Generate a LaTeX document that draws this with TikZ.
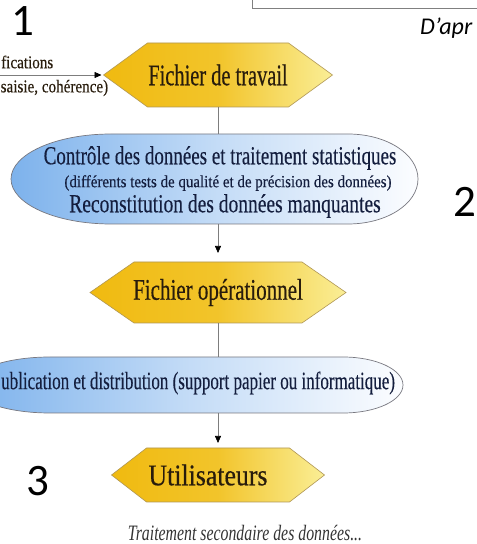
\documentclass[tikz,border=0pt]{standalone}
\usepackage{fontspec}
\setmainfont{Liberation Serif}
\newfontfamily\heavy[FakeBold=0.5]{Liberation Serif}
\newfontfamily\semiheavy[FakeBold=0.3]{Liberation Serif}
\newfontfamily\calib{Carlito}
\usetikzlibrary{arrows.meta}
\pgfdeclarelayer{bg}
\pgfsetlayers{bg,main}
\definecolor{goldL}{RGB}{240,186,16}
\definecolor{goldR}{RGB}{250,238,150}
\definecolor{blueL}{RGB}{125,178,236}
\definecolor{blueR}{RGB}{252,253,255}
\definecolor{linegray}{RGB}{125,125,125}
\definecolor{hexedge}{RGB}{175,150,85}
\definecolor{elledge}{RGB}{120,120,128}
\definecolor{txtdark}{RGB}{40,28,12}
\definecolor{txtblue}{RGB}{20,30,62}
\newcommand{\sx}[2]{\scalebox{#1}[1]{#2}}
\begin{document}
\begin{tikzpicture}[x=1pt,y=1pt,
  box/.style={inner sep=0pt, outer sep=0pt, draw=none},
  hexfill/.style={left color=goldL, right color=goldR, middle color=goldL!80!goldR, draw=hexedge, line width=0.6pt},
  ellfill/.style={left color=blueL, right color=blueR, middle color=blueL!45!blueR, draw=elledge, line width=0.7pt},
  conn/.style={draw=linegray, line width=0.7pt},
  arr/.style={conn, -{Triangle[length=7pt,width=6pt,color=black]}},
  boxline/.style={draw=gray, line width=0.8pt},
  hextext/.style={inner sep=0pt, text=txtdark, font=\heavy\fontsize{30}{30}\selectfont},
  elltext/.style={inner sep=0pt, text=txtblue},
  num/.style={inner sep=0pt, font=\calib\fontsize{45}{45}\selectfont},
  side/.style={inner sep=0pt, anchor=west, text=txtdark, font=\semiheavy\fontsize{18}{18}\selectfont}
  ]
\useasboundingbox (0,0) rectangle (477,544);

% top-right frame
\coordinate (bxa) at (252,546);
\coordinate (bxb) at (252,536);
\coordinate (bxc) at (480,536);
\draw[boxline] (bxa) -- (bxb) -- (bxc);
\node[inner sep=0pt, anchor=west, font=\calib\itshape\fontsize{24}{24}\selectfont] (dapr) at (420,516) {D’apr};

% numbers
\node[num] (n1) at (23,523) {1};
\node[num] (n2) at (465,342) {2};
\node[num] (n3) at (38,63) {3};

% hexagon 1
\node[box, minimum width=229pt, minimum height=64pt] (h1) at (218,469) {};
\node[hextext] (t1) at (h1.center) {\sx{0.68}{Fichier de travail}};
% side texts
\coordinate (lin) at (0,469);
\node[side] (fic) at (1,482) {\sx{0.84}{fications}};
\node[side] (sai) at (0.5,456) {\sx{0.84}{saisie, cohérence)}};

% ellipse 1
\node[box, minimum width=407pt, minimum height=90pt] (e1) at (214.5,365) {};
\node[elltext, font=\semiheavy\fontsize{26}{26}\selectfont] (e1a) at (220,386) {\sx{0.73}{Contrôle des données et traitement statistiques}};
\node[elltext, font=\semiheavy\fontsize{17}{17}\selectfont] (e1b) at (228,361) {\sx{0.88}{(différents tests de qualité et de précision des données)}};
\node[elltext, font=\semiheavy\fontsize{26}{26}\selectfont] (e1c) at (225,338) {\sx{0.75}{Reconstitution des données manquantes}};

% hexagon 2
\node[box, minimum width=256pt, minimum height=61pt] (h2) at (218,251.5) {};
\node[hextext] (t2) at (h2.center) {\sx{0.70}{Fichier opérationnel}};

% ellipse 2
\node[box, minimum width=433pt, minimum height=56pt] (e2) at (186.5,159) {};
\node[elltext, anchor=west, font=\semiheavy\fontsize{25}{25}\selectfont] (e2a) at (1,161) {\sx{0.68}{ublication et distribution (support papier ou informatique)}};

% hexagon 3
\node[box, minimum width=213pt, minimum height=54pt] (h3) at (218,69) {};
\node[hextext] (t3) at (208,69) {\sx{0.86}{Utilisateurs}};

% final text
\node[inner sep=0pt, text=black!80, font=\itshape\fontsize{22}{22}\selectfont] (tsec) at (245,11) {\sx{0.72}{Traitement secondaire des données...}};

\begin{pgfonlayer}{bg}
\path[hexfill] (h1.west) -- ([xshift=44pt]h1.north west) -- ([xshift=-44pt]h1.north east) -- (h1.east) -- ([xshift=-44pt]h1.south east) -- ([xshift=44pt]h1.south west) -- cycle;
\path[hexfill] (h2.west) -- ([xshift=44pt]h2.north west) -- ([xshift=-44pt]h2.north east) -- (h2.east) -- ([xshift=-44pt]h2.south east) -- ([xshift=44pt]h2.south west) -- cycle;
\path[hexfill] (h3.west) -- ([xshift=35pt]h3.north west) -- ([xshift=-35pt]h3.north east) -- (h3.east) -- ([xshift=-35pt]h3.south east) -- ([xshift=35pt]h3.south west) -- cycle;
\path[ellfill] ([xshift=100pt]e1.north west) -- ([xshift=-70pt]e1.north east) arc[start angle=90, end angle=-90, x radius=70pt, y radius=45pt] -- ([xshift=100pt]e1.south west) arc[start angle=270, end angle=90, x radius=100pt, y radius=45pt] -- cycle;
\path[ellfill] ([xshift=80pt]e2.north west) -- ([xshift=-60pt]e2.north east) arc[start angle=90, end angle=-90, x radius=60pt, y radius=28pt] -- ([xshift=80pt]e2.south west) arc[start angle=270, end angle=90, x radius=80pt, y radius=28pt] -- cycle;
\end{pgfonlayer}

% connectors
\draw[arr, shorten >=2pt] (lin) -- (h1.west);
\draw[conn] (h1.south) -- (h1.south |- e1.north);
\draw[arr, shorten >=9pt] (h1.south |- e1.south) -- (h2.north);
\draw[conn] (h2.south) -- (h2.south |- e2.north);
\draw[arr, shorten >=5pt] (h2.south |- e2.south) -- (h3.north);
\end{tikzpicture}
\end{document}
